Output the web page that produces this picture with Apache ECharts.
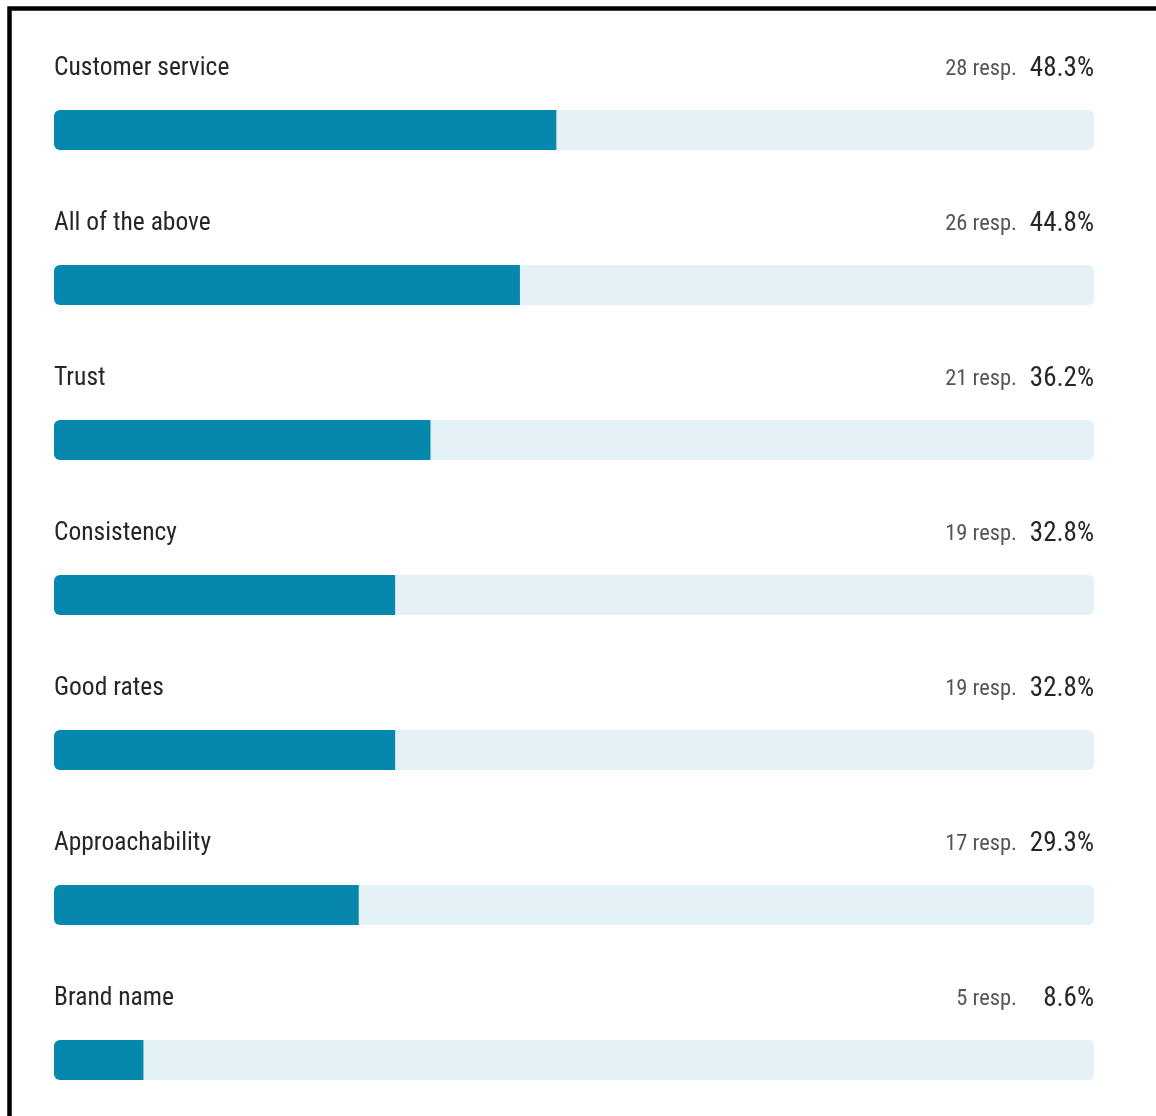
<!DOCTYPE html>
<html>
<head>
<meta charset="utf-8">
<title>Survey responses</title>
<script src="https://cdn.jsdelivr.net/npm/echarts@6/dist/echarts.min.js"></script>
<style>
  html, body { margin: 0; padding: 0; background: #ffffff; }
  #chart { width: 1156px; height: 1116px; }
</style>
</head>
<body>
<div id="chart"></div>
<script>
// Answer options, top to bottom
const categories = ['Customer service', 'All of the above', 'Trust', 'Consistency', 'Good rates', 'Approachability', 'Brand name'];
// Number of respondents choosing each option
const responses = [28, 26, 21, 19, 19, 17, 5];
// Share of respondents, in percent
const percents = [48.3, 44.8, 36.2, 32.8, 32.8, 29.3, 8.6];
// Full scale of each track
const SCALE_MAX = 100;
const trackValues = [100, 100, 100, 100, 100, 100, 100];

const FONT = "'Roboto Condensed', 'Liberation Sans Narrow', 'Arial Narrow', 'Liberation Sans', sans-serif";

const chart = echarts.init(document.getElementById('chart'), null, { renderer: 'canvas' });

chart.setOption({
  animation: false,
  backgroundColor: '#ffffff',
  // category centres sit on the grid edges (boundaryGap false): first row at 130, rows 155 apart
  grid: { left: 54, right: 62, top: 130, height: 930, containLabel: false },
  xAxis: {
    type: 'value', min: 0, max: SCALE_MAX,
    show: false
  },
  yAxis: {
    type: 'category', data: categories, inverse: true,
    boundaryGap: false,
    show: false
  },
  series: [
    {
      // light track with the count and percentage on its right end
      type: 'bar',
      data: trackValues,
      barWidth: 40,
      silent: true,
      clip: false,
      itemStyle: { color: '#e4f1f7', borderRadius: 6 },
      label: {
        show: true,
        position: ['100%', -41],
        align: 'right',
        verticalAlign: 'middle',
        formatter: function (p) {
          return '{r|' + responses[p.dataIndex] + ' resp.}{p|' + percents[p.dataIndex].toFixed(1) + '%}';
        },
        rich: {
          r: { fontFamily: FONT, fontSize: 22.5, color: '#555555' },
          p: { fontFamily: FONT, fontSize: 27, color: '#262626', width: 77, align: 'right' }
        }
      },
      z: 1
    },
    {
      // filled share, with the option name above it
      type: 'bar',
      data: percents,
      barWidth: 40,
      barGap: '-100%',
      silent: true,
      clip: false,
      itemStyle: { color: '#0587ae', borderRadius: [6, 0, 0, 6] },
      label: {
        show: true,
        position: [0, -41],
        align: 'left',
        verticalAlign: 'middle',
        fontFamily: FONT,
        fontSize: 25.5,
        color: '#262626',
        formatter: function (p) { return categories[p.dataIndex]; }
      },
      z: 2
    }
  ],
  graphic: [
    {
      // frame along the top and left edges
      type: 'rect',
      shape: { x: 9.5, y: 8.5, width: 1300, height: 1300 },
      style: { fill: 'none', stroke: '#000000', lineWidth: 4.5 },
      silent: true,
      z: 10
    }
  ]
});
</script>
</body>
</html>
